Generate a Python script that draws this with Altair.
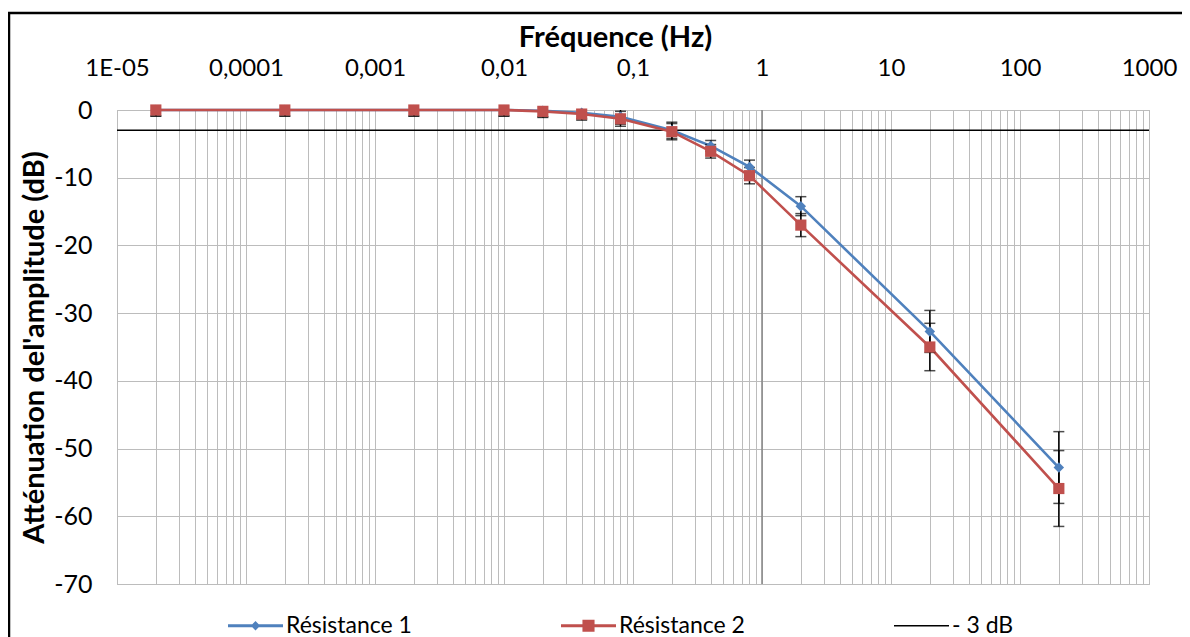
import json
import altair as alt
import pandas as pd

# ---------------- data ----------------
freq_hz = [2e-5, 2e-4, 2e-3, 0.01, 0.02, 0.04, 0.08, 0.2, 0.4, 0.8, 2, 20, 200]
att_r1 = [0, 0, 0, 0, -0.1, -0.4, -1.0, -3.0, -5.3, -8.4, -14.2, -32.7, -52.8]
att_r2 = [0, 0, 0, 0, -0.2, -0.6, -1.3, -3.2, -6.1, -9.7, -17.0, -35.0, -55.9]
err_r1 = [0.9, 0.9, 0.9, 0.9, 0.9, 0.9, 1.1, 1.2, 0.8, 1.0, 1.4, 3.1, 5.3]
err_r2 = [0.9, 0.9, 0.9, 0.9, 0.9, 0.9, 1.1, 1.2, 1.0, 1.2, 1.7, 3.5, 5.6]
cutoff_db = [-3]

series_names = ["Résistance 1", "Résistance 2", "- 3 dB"]
series_colors = ["#4F81BD", "#C0504D", "#000000"]

x_decades = [1e-5, 1e-4, 1e-3, 1e-2, 1e-1, 1, 10, 100, 1000]
x_tick_labels = ["1E-05", "0,0001", "0,001", "0,01", "0,1", "1", "10", "100", "1000"]
x_minor_mult = [1, 2, 3, 4, 5, 6, 7, 8, 9]
y_ticks = [0, -10, -20, -30, -40, -50, -60, -70]

# legend symbols (filled line bar + marker), in the [-1, 1] box
legend_paths = [
    "M-1,-0.055H1V0.055H-1ZM0,-0.17L0.17,0L0,0.17L-0.17,0Z",
    "M-1,-0.055H1V0.055H-1ZM-0.22,-0.22H0.22V0.22H-0.22Z",
    "M-1,-0.03H1V0.03H-1Z",
]

FONT = "Lato"

# ---------------- tables ----------------
rows = []
for name, att, err in [(series_names[0], att_r1, err_r1), (series_names[1], att_r2, err_r2)]:
    for f, a, e in zip(freq_hz, att, err):
        rows.append({"f": f, "att": a, "lo": a - e, "hi": a + e, "serie": name})
df = pd.DataFrame(rows)

grid_vals = [m * d for d in x_decades[:-1] for m in x_minor_mult] + [x_decades[-1]]

label_expr = (
    "abs(log(datum.value)/LN10 - round(log(datum.value)/LN10)) < 0.001 ? "
    + json.dumps(x_tick_labels)
    + "[round(log(datum.value)/LN10) + 5] : ''"
)

x_scale = alt.Scale(type="log", domain=[x_decades[0], x_decades[-1]], nice=False)
x_axis = alt.Axis(
    orient="top", values=grid_vals, labelExpr=label_expr, grid=True,
    gridColor="#bcbcbc", gridWidth=1, ticks=False, tickSize=0, domain=False,
    labelOverlap=False, labelFlush=False, labelBound=False,
    labelFont=FONT, labelFontSize=24, labelColor="#000000", labelPadding=30,
    title="Fréquence (Hz)", titleFont=FONT, titleFontSize=29, titleFontWeight="bold",
    titleColor="#000000", titleX=498, titleY=-64, titleAlign="center",
    titleBaseline="alphabetic",
)
y_scale = alt.Scale(domain=[-70, 0], nice=False, zero=False)
y_axis = alt.Axis(
    values=y_ticks, labelExpr="toString(datum.value)", grid=True, gridColor="#bcbcbc",
    gridWidth=1, ticks=False, tickSize=0, domain=False, labelFont=FONT, labelFontSize=25,
    labelColor="#000000", labelPadding=25, title="Atténuation del'amplitude (dB)",
    titleFont=FONT, titleFontSize=29, titleFontWeight="bold", titleColor="#000000",
    titlePadding=4,
)

X = alt.X("f:Q", scale=x_scale, axis=x_axis)
Y = alt.Y("att:Q", scale=y_scale, axis=y_axis)

base = alt.Chart(df)

# vertical axis crossing at 1 Hz (darker line)
axis_line = alt.Chart(pd.DataFrame({"f": [1]})).mark_rule(
    color="#868686", strokeWidth=1.5
).encode(x=X)

cut_line = alt.Chart(pd.DataFrame({"att": cutoff_db})).mark_rule(
    color=series_colors[2], strokeWidth=1.5
).encode(y=Y)

line1 = base.transform_filter(alt.datum.serie == series_names[0]).mark_line(
    strokeWidth=2.6, color=series_colors[0]
).encode(x=X, y=Y)
line2 = base.transform_filter(alt.datum.serie == series_names[1]).mark_line(
    strokeWidth=2.6, color=series_colors[1]
).encode(x=X, y=Y)

Ylo = alt.Y("lo:Q", scale=y_scale, axis=y_axis)
Yhi = alt.Y("hi:Q", scale=y_scale, axis=y_axis)
err_rule = base.mark_rule(color="#000000", strokeWidth=1.5, clip=True).encode(x=X, y=Ylo, y2="hi:Q")
cap_lo = base.mark_tick(color="#000000", thickness=1.5, size=11, orient="horizontal", clip=True).encode(x=X, y=Ylo)
cap_hi = base.mark_tick(color="#000000", thickness=1.5, size=11, orient="horizontal", clip=True).encode(x=X, y=Yhi)

pts1 = base.transform_filter(alt.datum.serie == series_names[0]).mark_point(
    shape="diamond", filled=True, size=110, opacity=1, color=series_colors[0]
).encode(x=X, y=Y)
pts2 = base.transform_filter(alt.datum.serie == series_names[1]).mark_point(
    shape="square", filled=True, size=125, opacity=1, color=series_colors[1]
).encode(x=X, y=Y)

# legend (its points sit outside the clipped plot; only the legend shows)
legend = alt.Legend(
    title=None, orient="none", legendX=111, legendY=488, direction="horizontal",
    columns=3, gridAlign="all", columnPadding=149, symbolSize=3025,
    symbolStrokeWidth=0, labelFont=FONT, labelFontSize=23, labelColor="#000000",
    labelOffset=3, symbolOpacity=1,
)
leg_df = pd.DataFrame({"serie": series_names, "f": [1e-5] * 3, "att": [50] * 3})
legend_layer = alt.Chart(leg_df).mark_point(filled=True, clip=True).encode(
    x=X, y=Y,
    color=alt.Color("serie:N", scale=alt.Scale(domain=series_names, range=series_colors), legend=legend),
    shape=alt.Shape("serie:N", scale=alt.Scale(domain=series_names, range=legend_paths), legend=legend),
)

frame = alt.Chart(pd.DataFrame({"k": [0]})).mark_rect(
    fillOpacity=0, stroke="#000000", strokeWidth=2.5, clip=False
).encode(x=alt.value(-108), x2=alt.value(1300), y=alt.value(-97), y2=alt.value(800))

chart = alt.layer(
    frame, axis_line, cut_line, line1, line2, err_rule, cap_lo, cap_hi, pts1, pts2, legend_layer
).properties(
    width=1032, height=474,
    autosize=alt.AutoSizeParams(type="none"),
    padding={"left": 109, "top": 102, "right": 33, "bottom": 58},
    background="#ffffff",
).configure_view(stroke="#a6a6a6", strokeWidth=1)

chart.save("out.html", embed_options={"renderer": "svg", "actions": False})
